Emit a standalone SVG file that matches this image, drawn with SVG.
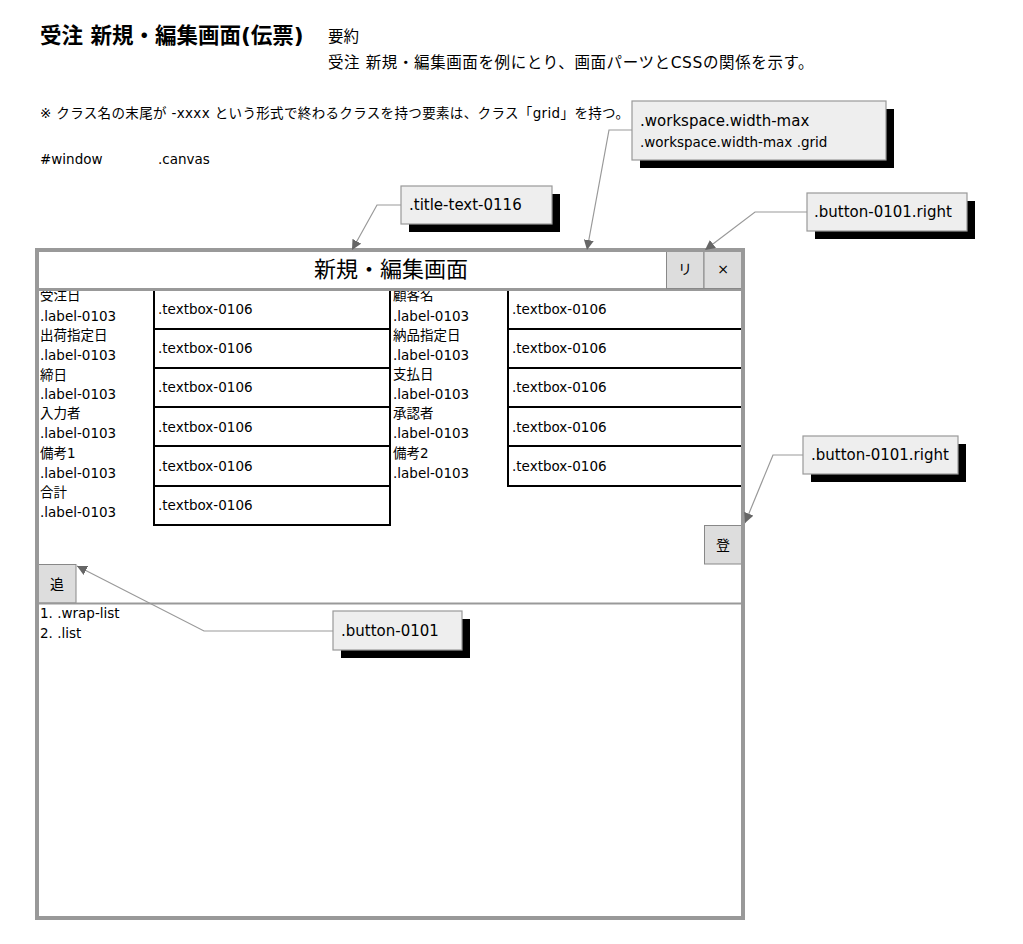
<svg xmlns="http://www.w3.org/2000/svg" width="1023" height="944" viewBox="0 0 1023 944">
<style>
text{font-family:"DejaVu Sans","Noto Sans CJK JP",sans-serif;fill:#000}
.s13{font-size:13.5px}
.s15{font-size:15px}
.callout{fill:#eeeeee;stroke:#999;stroke-width:1.2}
.shadow{fill:#000}
.tb{fill:#fff;stroke:#000;stroke-width:2}
.btn{fill:#dddddd;stroke:#888;stroke-width:1}
.conn{fill:none;stroke:#999;stroke-width:1.2}
</style>
<defs>
<marker id="arr" viewBox="0 0 10 10" refX="10" refY="5" markerWidth="10" markerHeight="10" markerUnits="userSpaceOnUse" orient="auto">
<path d="M0,0 L10,5 L0,10 Z" fill="#666"/>
</marker>
</defs>
<rect width="1023" height="944" fill="#fff"/>

<g id="header">
<text x="40" y="43" style="font-size:21.5px;font-weight:bold">受注 新規・編集画面(伝票)</text>
<text x="328" y="42" style="font-size:15.5px">要約</text>
<text x="328" y="68" style="font-size:15.5px;letter-spacing:0.6px">受注 新規・編集画面を例にとり、画面パーツとCSSの関係を示す。</text>
<text x="40" y="118" class="s13" style="letter-spacing:0.35px">※ クラス名の末尾が -xxxx という形式で終わるクラスを持つ要素は、クラス「grid」を持つ。</text>
<text x="40" y="164" class="s13">#window</text>
<text x="158" y="164" class="s13">.canvas</text>
</g>

<g id="window">
<rect x="37" y="250" width="706" height="668" fill="#fff"/>
<g id="labels-left">
<text x="40" y="300" class="s13">受注日</text>
<text x="40" y="321" class="s13">.label-0103</text>
<text x="40" y="340" class="s13">出荷指定日</text>
<text x="40" y="360" class="s13">.label-0103</text>
<text x="40" y="380" class="s13">締日</text>
<text x="40" y="399" class="s13">.label-0103</text>
<text x="40" y="418" class="s13">入力者</text>
<text x="40" y="438" class="s13">.label-0103</text>
<text x="40" y="458" class="s13">備考1</text>
<text x="40" y="478" class="s13">.label-0103</text>
<text x="40" y="497" class="s13">合計</text>
<text x="40" y="517" class="s13">.label-0103</text>
</g>
<g id="textboxes-left">
<rect x="154" y="290" width="236" height="39" class="tb"/>
<rect x="154" y="329" width="236" height="39" class="tb"/>
<rect x="154" y="368" width="236" height="39" class="tb"/>
<rect x="154" y="407" width="236" height="39" class="tb"/>
<rect x="154" y="446" width="236" height="40" class="tb"/>
<rect x="154" y="486" width="236" height="39" class="tb"/>
<text x="158" y="314" class="s13">.textbox-0106</text>
<text x="158" y="353" class="s13">.textbox-0106</text>
<text x="158" y="392" class="s13">.textbox-0106</text>
<text x="158" y="432" class="s13">.textbox-0106</text>
<text x="158" y="471" class="s13">.textbox-0106</text>
<text x="158" y="510" class="s13">.textbox-0106</text>
</g>
<g id="labels-right">
<text x="393" y="300" class="s13">顧客名</text>
<text x="393" y="321" class="s13">.label-0103</text>
<text x="393" y="340" class="s13">納品指定日</text>
<text x="393" y="360" class="s13">.label-0103</text>
<text x="393" y="379" class="s13">支払日</text>
<text x="393" y="399" class="s13">.label-0103</text>
<text x="393" y="418" class="s13">承認者</text>
<text x="393" y="438" class="s13">.label-0103</text>
<text x="393" y="458" class="s13">備考2</text>
<text x="393" y="478" class="s13">.label-0103</text>
</g>
<g id="textboxes-right">
<rect x="508" y="290" width="234" height="39" class="tb"/>
<rect x="508" y="329" width="234" height="39" class="tb"/>
<rect x="508" y="368" width="234" height="39" class="tb"/>
<rect x="508" y="407" width="234" height="39" class="tb"/>
<rect x="508" y="446" width="234" height="40" class="tb"/>
<text x="512" y="314" class="s13">.textbox-0106</text>
<text x="512" y="353" class="s13">.textbox-0106</text>
<text x="512" y="392" class="s13">.textbox-0106</text>
<text x="512" y="432" class="s13">.textbox-0106</text>
<text x="512" y="471" class="s13">.textbox-0106</text>
</g>
<g id="titlebar">
<rect x="37" y="250" width="706" height="39" fill="#fff"/>
<line x1="37" y1="289.5" x2="743" y2="289.5" stroke="#999" stroke-width="3"/>
<text x="391" y="277" text-anchor="middle" style="font-size:22px">新規・編集画面</text>
</g>
<g id="btn-reload">
<rect x="666.5" y="251.5" width="37.5" height="37" class="btn"/>
<text x="685" y="274" text-anchor="middle" style="font-size:14px">リ</text>
</g>
<g id="btn-close">
<rect x="704" y="251.5" width="38" height="37" class="btn"/>
<text x="723" y="274" text-anchor="middle" style="font-size:14px">×</text>
</g>
<g id="btn-register">
<rect x="704.5" y="525.5" width="38" height="38.5" class="btn"/>
<text x="723" y="550" text-anchor="middle" style="font-size:14px">登</text>
</g>
<g id="btn-add">
<rect x="38" y="564.5" width="38" height="38.5" class="btn"/>
<text x="57" y="589" text-anchor="middle" style="font-size:14px">追</text>
</g>
<line x1="37" y1="603.5" x2="743" y2="603.5" stroke="#999" stroke-width="2"/>
<g id="list">
<text x="40" y="618" class="s13">1. .wrap-list</text>
<text x="40" y="638" class="s13">2. .list</text>
</g>
<rect x="37" y="250" width="706" height="668" fill="none" stroke="#999" stroke-width="4"/>
</g>

<g id="connectors">
<polyline class="conn" points="632,130 609,130 587,250" marker-end="url(#arr)"/>
<polyline class="conn" points="401,205 377,205 352,250" marker-end="url(#arr)"/>
<polyline class="conn" points="807,212 755,212 705,250" marker-end="url(#arr)"/>
<polyline class="conn" points="803,455 773,455 745,523" marker-end="url(#arr)"/>
<polyline class="conn" points="333,631 204,631 77,566" marker-end="url(#arr)"/>
</g>

<g id="callout-workspace">
<rect x="640" y="109" width="254" height="59" class="shadow"/>
<rect x="632" y="101" width="254" height="59" class="callout"/>
<text x="640" y="126" class="s15">.workspace.width-max</text>
<text x="640" y="147" class="s13">.workspace.width-max .grid</text>
</g>
<g id="callout-title">
<rect x="409" y="194" width="151" height="38" class="shadow"/>
<rect x="401" y="186" width="151" height="38" class="callout"/>
<text x="409" y="210" class="s15">.title-text-0116</text>
</g>
<g id="callout-button-right-top">
<rect x="815" y="201" width="160" height="38" class="shadow"/>
<rect x="807" y="193" width="160" height="38" class="callout"/>
<text x="814" y="217" class="s15">.button-0101.right</text>
</g>
<g id="callout-button-right-mid">
<rect x="811" y="444" width="155" height="38" class="shadow"/>
<rect x="803" y="436" width="155" height="38" class="callout"/>
<text x="811" y="460" class="s15">.button-0101.right</text>
</g>
<g id="callout-button">
<rect x="341" y="619" width="129" height="39" class="shadow"/>
<rect x="333" y="611" width="129" height="39" class="callout"/>
<text x="341" y="636" class="s15">.button-0101</text>
</g>
</svg>
